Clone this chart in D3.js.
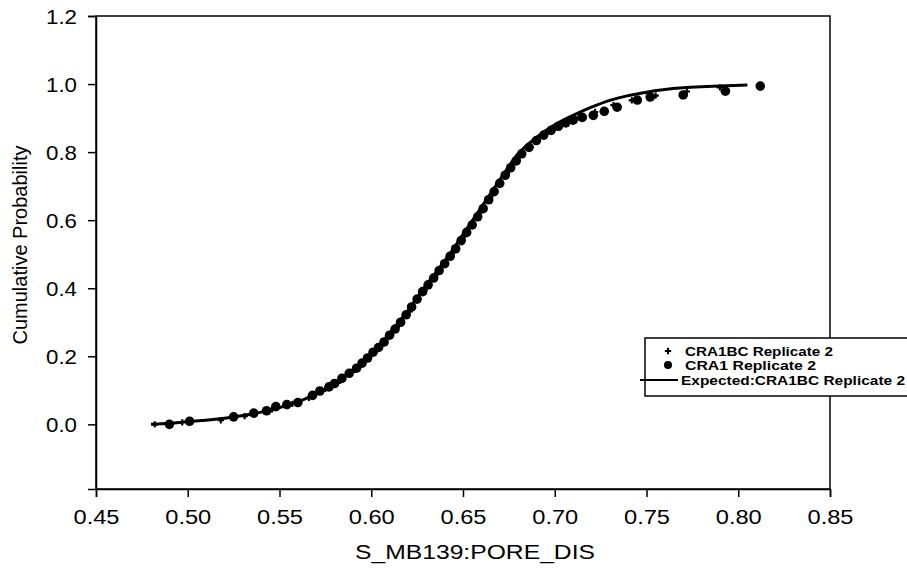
<!DOCTYPE html>
<html>
<head>
<meta charset="utf-8">
<script src="https://cdn.jsdelivr.net/npm/d3@7"></script>
<style>
  body { margin: 0; background: #fff; }
  svg text { font-family: Arial, "Liberation Sans", sans-serif; fill: #000; }
</style>
</head>
<body>
<svg id="chart" width="907" height="577"></svg>
<script>
// axis ticks
const xTicks = [0.45, 0.50, 0.55, 0.60, 0.65, 0.70, 0.75, 0.80, 0.85];
const yTicks = [0.0, 0.2, 0.4, 0.6, 0.8, 1.0, 1.2];

// expected CDF
const expX = [0.480, 0.490, 0.500, 0.510, 0.520, 0.530, 0.540, 0.550, 0.560, 0.570, 0.580, 0.590, 0.600, 0.610, 0.620, 0.630, 0.640, 0.650, 0.660, 0.670, 0.680, 0.690, 0.700, 0.710, 0.720, 0.730, 0.740, 0.750, 0.760, 0.770, 0.780, 0.790, 0.805];
const expY = [0.000, 0.003, 0.008, 0.012, 0.018, 0.026, 0.036, 0.049, 0.066, 0.090, 0.120, 0.160, 0.208, 0.268, 0.335, 0.410, 0.480, 0.558, 0.638, 0.718, 0.795, 0.843, 0.880, 0.908, 0.932, 0.952, 0.966, 0.976, 0.984, 0.989, 0.992, 0.994, 0.997];

// CRA1 Replicate 2 (filled circles)
const cra1X = [0.490, 0.501, 0.525, 0.536, 0.543, 0.548, 0.554, 0.560, 0.568, 0.572, 0.577, 0.580, 0.584, 0.588, 0.592, 0.595, 0.598, 0.601, 0.604, 0.607, 0.610, 0.613, 0.616, 0.619, 0.622, 0.625, 0.628, 0.631, 0.634, 0.637, 0.640, 0.643, 0.646, 0.649, 0.652, 0.655, 0.658, 0.661, 0.664, 0.667, 0.670, 0.673, 0.676, 0.679, 0.682, 0.686, 0.690, 0.694, 0.698, 0.702, 0.706, 0.710, 0.715, 0.721, 0.727, 0.734, 0.745, 0.752, 0.770, 0.793, 0.812];
const cra1Y = [0.000, 0.009, 0.022, 0.033, 0.040, 0.052, 0.058, 0.064, 0.085, 0.098, 0.110, 0.120, 0.135, 0.150, 0.165, 0.180, 0.195, 0.212, 0.226, 0.242, 0.262, 0.280, 0.300, 0.322, 0.345, 0.368, 0.390, 0.410, 0.430, 0.452, 0.472, 0.494, 0.516, 0.540, 0.564, 0.586, 0.610, 0.634, 0.660, 0.684, 0.708, 0.732, 0.754, 0.774, 0.795, 0.814, 0.834, 0.850, 0.864, 0.876, 0.886, 0.894, 0.902, 0.908, 0.920, 0.932, 0.953, 0.962, 0.968, 0.979, 0.994];

// CRA1BC Replicate 2 (small crosses)
const bcX = [0.482, 0.497, 0.518, 0.531, 0.546, 0.557, 0.566, 0.575, 0.583, 0.591, 0.599, 0.606, 0.614, 0.621, 0.629, 0.636, 0.644, 0.651, 0.659, 0.666, 0.674, 0.681, 0.689, 0.697, 0.705, 0.713, 0.722, 0.732, 0.742, 0.755, 0.772, 0.790];
const bcY = [0.000, 0.006, 0.012, 0.024, 0.044, 0.060, 0.078, 0.104, 0.128, 0.160, 0.200, 0.238, 0.286, 0.332, 0.394, 0.444, 0.502, 0.556, 0.622, 0.676, 0.738, 0.790, 0.832, 0.862, 0.884, 0.902, 0.918, 0.938, 0.952, 0.966, 0.978, 0.990];

const legendItems = ["CRA1BC Replicate 2", "CRA1 Replicate 2", "Expected:CRA1BC Replicate 2"];

const svg = d3.select("#chart");
const mLeft = 96, mRight = 830, mTop = 16, mBottom = 489;

const x = d3.scaleLinear().domain([0.45, 0.85]).range([mLeft, mRight]);
const y = d3.scaleLinear().domain([-0.19, 1.2]).range([mBottom, mTop]);

// frame
svg.append("rect")
  .attr("x", mLeft).attr("y", mTop)
  .attr("width", mRight - mLeft).attr("height", mBottom - mTop)
  .attr("fill", "none").attr("stroke", "#000").attr("stroke-width", 1.5);

// axes
const xAxis = svg.append("g")
  .attr("transform", `translate(0,${mBottom})`)
  .call(d3.axisBottom(x).tickValues(xTicks).tickFormat(d3.format(".2f")).tickSize(8).tickPadding(13));
const yAxis = svg.append("g")
  .attr("transform", `translate(${mLeft},0)`)
  .call(d3.axisLeft(y).tickValues(yTicks).tickFormat(d3.format(".1f")).tickSize(8).tickPadding(11));

[xAxis, yAxis].forEach(g => {
  g.select(".domain").attr("stroke-width", 1.5);
  g.selectAll(".tick line").attr("stroke-width", 1.5);
  g.selectAll(".tick text").attr("font-size", 20).attr("font-family", "Arial, 'Liberation Sans', sans-serif")
    .attr("lengthAdjust", "spacingAndGlyphs");
});
xAxis.selectAll(".tick text").attr("textLength", 46);
yAxis.selectAll(".tick text").attr("dy", "0.36em").attr("textLength", 31);

// axis titles
svg.append("text")
  .attr("x", 475).attr("y", 559)
  .attr("text-anchor", "middle").attr("font-size", 20)
  .attr("textLength", 240).attr("lengthAdjust", "spacingAndGlyphs")
  .text("S_MB139:PORE_DIS");
svg.append("text")
  .attr("transform", `translate(27,245) rotate(-90)`)
  .attr("text-anchor", "middle").attr("font-size", 20)
  .text("Cumulative Probability");

// expected line
const expData = expX.map((v, i) => [v, expY[i]]);
svg.append("path")
  .datum(expData)
  .attr("fill", "none").attr("stroke", "#000").attr("stroke-width", 3)
  .attr("d", d3.line().x(d => x(d[0])).y(d => y(d[1])).curve(d3.curveMonotoneX));

// CRA1 circles
svg.append("g").selectAll("circle")
  .data(cra1X.map((v, i) => [v, cra1Y[i]]))
  .join("circle")
  .attr("cx", d => x(d[0])).attr("cy", d => y(d[1]))
  .attr("r", 4.8).attr("fill", "#000");

// CRA1BC crosses
const cross = d3.symbol().type(d3.symbolCross).size(22);
svg.append("g").selectAll("path")
  .data(bcX.map((v, i) => [v, bcY[i]]))
  .join("path")
  .attr("transform", d => `translate(${x(d[0])},${y(d[1])})`)
  .attr("d", cross).attr("fill", "#000");

// legend
const lg = svg.append("g");
lg.append("rect")
  .attr("x", 645).attr("y", 338).attr("width", 280).attr("height", 58)
  .attr("fill", "#fff").attr("stroke", "#000").attr("stroke-width", 1.5);
const rowY = [351, 365, 380];
const rowW = [148, 131, 224];
lg.append("path")
  .attr("transform", `translate(668,${rowY[0]})`)
  .attr("d", d3.symbol().type(d3.symbolCross).size(22)).attr("fill", "#000");
lg.append("circle").attr("cx", 668).attr("cy", rowY[1]).attr("r", 4).attr("fill", "#000");
lg.append("line").attr("x1", 640).attr("x2", 678).attr("y1", rowY[2]).attr("y2", rowY[2])
  .attr("stroke", "#000").attr("stroke-width", 2);
lg.selectAll("text.lab")
  .data(legendItems)
  .join("text")
  .attr("class", "lab")
  .attr("x", (d, i) => i === 2 ? 681 : 685)
  .attr("y", (d, i) => rowY[i])
  .attr("dy", "0.35em")
  .attr("font-size", 13).attr("font-weight", "bold")
  .attr("textLength", (d, i) => rowW[i]).attr("lengthAdjust", "spacingAndGlyphs")
  .text(d => d);
</script>
</body>
</html>
